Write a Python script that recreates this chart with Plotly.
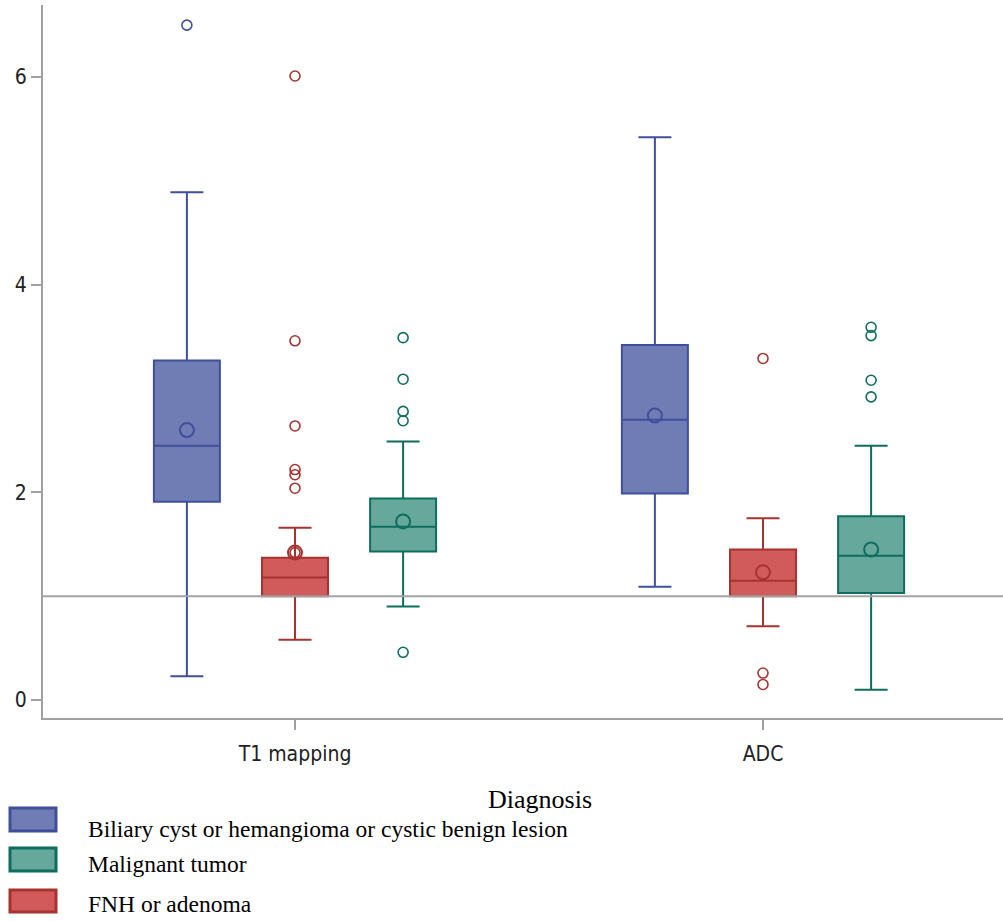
import plotly.graph_objects as go

# ---------------- data ----------------
categories = ["T1 mapping", "ADC"]
groups = ["Biliary cyst or hemangioma or cystic benign lesion", "FNH or adenoma", "Malignant tumor"]
legend_order = [0, 2, 1]  # legend lists Biliary, Malignant, FNH

# per group, per category
q1 = {
    groups[0]: [1.91, 1.99],
    groups[1]: [1.00, 1.00],
    groups[2]: [1.43, 1.03],
}
median = {
    groups[0]: [2.45, 2.70],
    groups[1]: [1.18, 1.15],
    groups[2]: [1.67, 1.39],
}
q3 = {
    groups[0]: [3.27, 3.42],
    groups[1]: [1.37, 1.45],
    groups[2]: [1.94, 1.77],
}
lower_whisker = {
    groups[0]: [0.23, 1.09],
    groups[1]: [0.58, 0.71],
    groups[2]: [0.90, 0.10],
}
upper_whisker = {
    groups[0]: [4.89, 5.42],
    groups[1]: [1.66, 1.75],
    groups[2]: [2.49, 2.45],
}
mean = {
    groups[0]: [2.60, 2.74],
    groups[1]: [1.42, 1.23],
    groups[2]: [1.72, 1.45],
}
outliers = {
    groups[0]: [[6.50], []],
    groups[1]: [[6.01, 3.46, 2.64, 2.22, 2.17, 2.04, 1.42], [3.29, 0.26, 0.15]],
    groups[2]: [[3.49, 3.09, 2.78, 2.69, 0.46], [3.59, 3.51, 3.08, 2.92]],
}
reference_value = 1.0
y_ticks = [0, 2, 4, 6]

fill_colors = ["#6f7db4", "#d15b5b", "#66a89c"]
line_colors = ["#3f4f9b", "#a6332f", "#0f6d5f"]

# ---------------- layout helpers ----------------
W, H = 1003, 921
ML, MR, MT, MB = 43, 0, 5, 203
PW, PH = W - ML - MR, H - MT - MB
group_offsets = [-0.231, 0.0, 0.231]
box_width = 0.141

fig = go.Figure()

for gi, g in enumerate(groups):
    xs = [ci + group_offsets[gi] for ci in range(len(categories))]
    fig.add_trace(go.Box(
        x=xs, q1=q1[g], median=median[g], q3=q3[g],
        lowerfence=lower_whisker[g], upperfence=upper_whisker[g],
        width=box_width, whiskerwidth=0.5,
        fillcolor=fill_colors[gi],
        line=dict(color=line_colors[gi], width=2),
        boxpoints=False, name=g, showlegend=False, hoverinfo="skip",
    ))
    # means
    fig.add_trace(go.Scatter(
        x=xs, y=mean[g], mode="markers",
        marker=dict(symbol="circle-open", size=14, color=line_colors[gi], line=dict(width=2)),
        showlegend=False, hoverinfo="skip",
    ))
    # outliers
    ox, oy = [], []
    for ci in range(len(categories)):
        for v in outliers[g][ci]:
            ox.append(ci + group_offsets[gi])
            oy.append(v)
    fig.add_trace(go.Scatter(
        x=ox, y=oy, mode="markers",
        marker=dict(symbol="circle-open", size=10, color=line_colors[gi], line=dict(width=1.6)),
        showlegend=False, hoverinfo="skip",
    ))

# reference line
fig.add_shape(type="line", xref="paper", x0=0, x1=1, yref="y", y0=reference_value, y1=reference_value,
              line=dict(color="#a3a3a3", width=2), layer="above")


def px_x(p):
    return (p - ML) / PW


def px_y(p):
    return (H - MB - p) / PH


# manual legend
fig.add_annotation(text="Diagnosis", xref="paper", yref="paper", x=px_x(540), y=px_y(799),
                   xanchor="center", yanchor="middle", showarrow=False,
                   font=dict(family="Liberation Serif", size=26, color="#000"))
legend_rows = [(808, 831, 829), (848, 871, 864), (890, 912, 904)]
for row, gi in enumerate(legend_order):
    y0, y1, yc = legend_rows[row]
    fig.add_shape(type="rect", xref="paper", yref="paper",
                  x0=px_x(10), x1=px_x(56), y0=px_y(y0), y1=px_y(y1),
                  fillcolor=fill_colors[gi], line=dict(color=line_colors[gi], width=3))
    fig.add_annotation(text=groups[gi], xref="paper", yref="paper", x=px_x(86), y=px_y(yc),
                       xanchor="left", yanchor="middle", showarrow=False,
                       font=dict(family="Liberation Serif", size=23.5, color="#000"))

axis_col = "#a0a0a0"
tick_font = dict(family="Liberation Sans Narrow, DejaVu Sans Condensed, Liberation Sans", size=21, color="#222")
fig.update_layout(
    width=W, height=H,
    margin=dict(l=ML, r=MR, t=MT, b=MB),
    paper_bgcolor="white", plot_bgcolor="white",
    showlegend=False,
    xaxis=dict(
        range=[-(252 / 468), 1 + 240 / 468],
        tickmode="array", tickvals=list(range(len(categories))), ticktext=categories,
        showgrid=False, zeroline=False, showline=True, linecolor=axis_col, linewidth=2,
        ticks="outside", ticklen=10, tickcolor=axis_col, tickwidth=1.5,
        tickfont=tick_font, ticklabelstandoff=6,
    ),
    yaxis=dict(
        range=[-0.173, 6.694],
        tickmode="array", tickvals=y_ticks,
        showgrid=False, zeroline=False, showline=True, linecolor=axis_col, linewidth=2,
        ticks="outside", ticklen=10, tickcolor=axis_col, tickwidth=1.5,
        tickfont=tick_font,
    ),
)

fig.write_html("out.html", config={"displayModeBar": False},
               post_script="document.body.style.margin='0';document.body.style.padding='0';")
